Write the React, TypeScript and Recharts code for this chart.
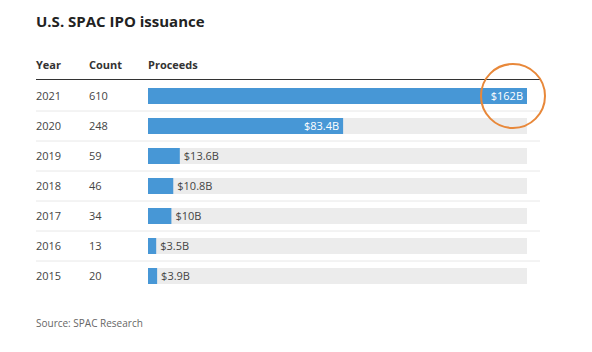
import { BarChart, Bar, XAxis, YAxis, LabelList } from 'recharts';

const years = ['2021', '2020', '2019', '2018', '2017', '2016', '2015'];
const counts = [610, 248, 59, 46, 34, 13, 20];
const proceeds = [162, 83.4, 13.6, 10.8, 10, 3.5, 3.9];
const proceedsLabels = ['$162B', '$83.4B', '$13.6B', '$10.8B', '$10B', '$3.5B', '$3.9B'];

const FONT = '"Open Sans", "Noto Sans", sans-serif';
const BLUE = '#4797d6';

const data = years.map((year, i) => ({
  year,
  count: counts[i],
  proceeds: proceeds[i],
  label: proceedsLabels[i],
}));

const RowTick = (props: any) => {
  const { y, payload, index } = props;
  const row = data[index];
  return (
    <g>
      <text x={36} y={y} dy={4} fontSize={11} fill="#444" fontFamily={FONT}>
        {payload.value}
      </text>
      <text x={89} y={y} dy={4} fontSize={11} fill="#444" fontFamily={FONT}>
        {row ? row.count : ''}
      </text>
      {index < data.length - 1 && (
        <line x1={36} x2={540} y1={y + 15} y2={y + 15} stroke="#e8e8e8" strokeWidth={1} />
      )}
    </g>
  );
};

const ValueLabel = (props: any) => {
  const { x, y, width, height, value } = props;
  const inside = value > 50;
  const row = data.find((d) => d.proceeds === value);
  return (
    <text
      x={inside ? x + width - 4 : x + width + 4}
      y={y + height / 2}
      dy={4}
      textAnchor={inside ? 'end' : 'start'}
      fontSize={11}
      fill={inside ? '#fff' : '#444'}
      fontFamily={FONT}
    >
      {row ? row.label : ''}
    </text>
  );
};

export default function App() {
  return (
    <div style={{ position: 'absolute', left: 0, top: 0, width: 592, height: 352, background: '#fff', fontFamily: FONT }}>
      <div style={{ position: 'absolute', left: 36, top: 11, fontSize: 15, fontWeight: 700, color: '#222' }}>
        U.S. SPAC IPO issuance
      </div>
      <div style={{ position: 'absolute', left: 36, top: 57, fontSize: 11, fontWeight: 700, color: '#333' }}>Year</div>
      <div style={{ position: 'absolute', left: 89, top: 57, fontSize: 11, fontWeight: 700, color: '#333' }}>Count</div>
      <div style={{ position: 'absolute', left: 148, top: 57, fontSize: 11, fontWeight: 700, color: '#333' }}>Proceeds</div>
      <div style={{ position: 'absolute', left: 36, top: 79, width: 504, height: 0, borderTop: '1.5px solid #333' }} />
      <BarChart
        width={592}
        height={352}
        data={data}
        layout="vertical"
        margin={{ top: 81, right: 65, bottom: 61, left: 0 }}
        barSize={16}
      >
        <XAxis type="number" domain={[0, 162]} hide />
        <YAxis
          type="category"
          dataKey="year"
          width={148}
          axisLine={false}
          tickLine={false}
          tick={<RowTick />}
          interval={0}
        />
        <Bar dataKey="proceeds" fill={BLUE} background={{ fill: '#ececec' }} isAnimationActive={false}>
          <LabelList dataKey="proceeds" content={<ValueLabel />} />
        </Bar>
      </BarChart>
      <div
        style={{
          position: 'absolute',
          left: 480,
          top: 63,
          width: 62,
          height: 62,
          borderRadius: '50%',
          border: '2px solid #e8883a',
        }}
      />
      <div style={{ position: 'absolute', left: 36, top: 316, fontSize: 10, color: '#666' }}>Source: SPAC Research</div>
    </div>
  );
}
